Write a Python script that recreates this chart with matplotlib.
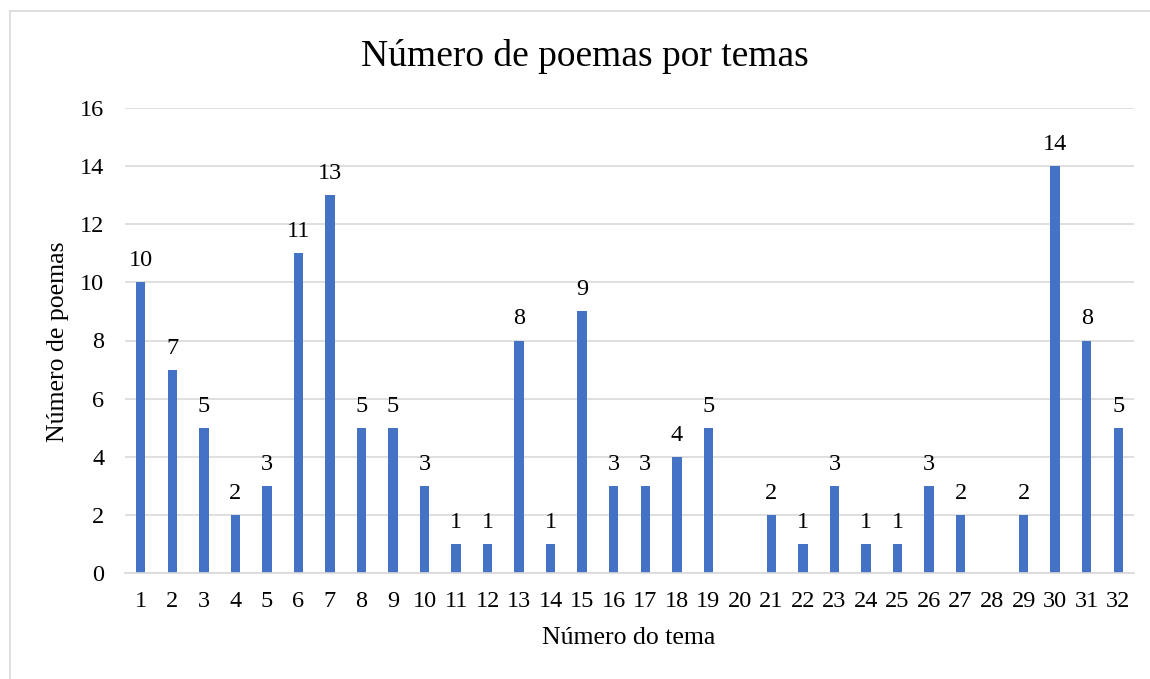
import matplotlib.pyplot as plt
from matplotlib.lines import Line2D

temas = [str(i) for i in range(1, 33)]
poemas = [10, 7, 5, 2, 3, 11, 13, 5, 5, 3, 1, 1, 8, 1, 9, 3,
          3, 4, 5, 0, 2, 1, 3, 1, 1, 3, 2, 0, 2, 14, 8, 5]
y_ticks = [0, 2, 4, 6, 8, 10, 12, 14, 16]

plt.rcParams['font.family'] = ['Liberation Serif', 'DejaVu Serif']

W, H = 1150, 679
fig = plt.figure(figsize=(W / 100, H / 100), dpi=100)
ax = fig.add_axes([125 / W, 1 - 573 / H, (1134 - 125) / W, (573 - 108) / H])

x = list(range(len(temas)))
ax.bar(x, poemas, width=0.3, color='#4472C4', zorder=3)
for xi, v in zip(x, poemas):
    if v > 0:
        ax.text(xi, v + 0.38, str(v), ha='center', va='bottom', fontsize=17.5, color='#000000')

ax.set_xlim(-0.5, len(temas) - 0.5)
ax.set_ylim(0, 16)
ax.set_yticks(y_ticks)
ax.set_xticks(x)
ax.set_xticklabels(temas)
ax.tick_params(axis='both', length=0, labelsize=17.5, colors='#000000')
ax.tick_params(axis='x', pad=13)
ax.tick_params(axis='y', pad=15)
ax.grid(axis='y', color='#D9D9D9', linewidth=1.2, zorder=0)
for s in ['top', 'right', 'left']:
    ax.spines[s].set_visible(False)
ax.spines['bottom'].set_color('#D9D9D9')
ax.spines['bottom'].set_linewidth(1.2)
ax.spines['bottom'].set_zorder(4)

fig.text(585 / W, 1 - 57 / H, 'Número de poemas por temas', ha='center', va='center', fontsize=27)
fig.text(629 / W, 1 - 638 / H, 'Número do tema', ha='center', va='center', fontsize=18.5)
fig.text(58 / W, 1 - 342 / H, 'Número de poemas', ha='center', va='center', fontsize=18.5, rotation=90)

# chart area frame
fig.add_artist(Line2D([9.5 / W, 9.5 / W], [0, 1 - 11 / H], color='#D9D9D9', linewidth=1.2, transform=fig.transFigure))
fig.add_artist(Line2D([9.5 / W, 1], [1 - 11 / H, 1 - 11 / H], color='#D9D9D9', linewidth=1.2, transform=fig.transFigure))

fig.savefig('out.png', dpi=100, facecolor='white')
